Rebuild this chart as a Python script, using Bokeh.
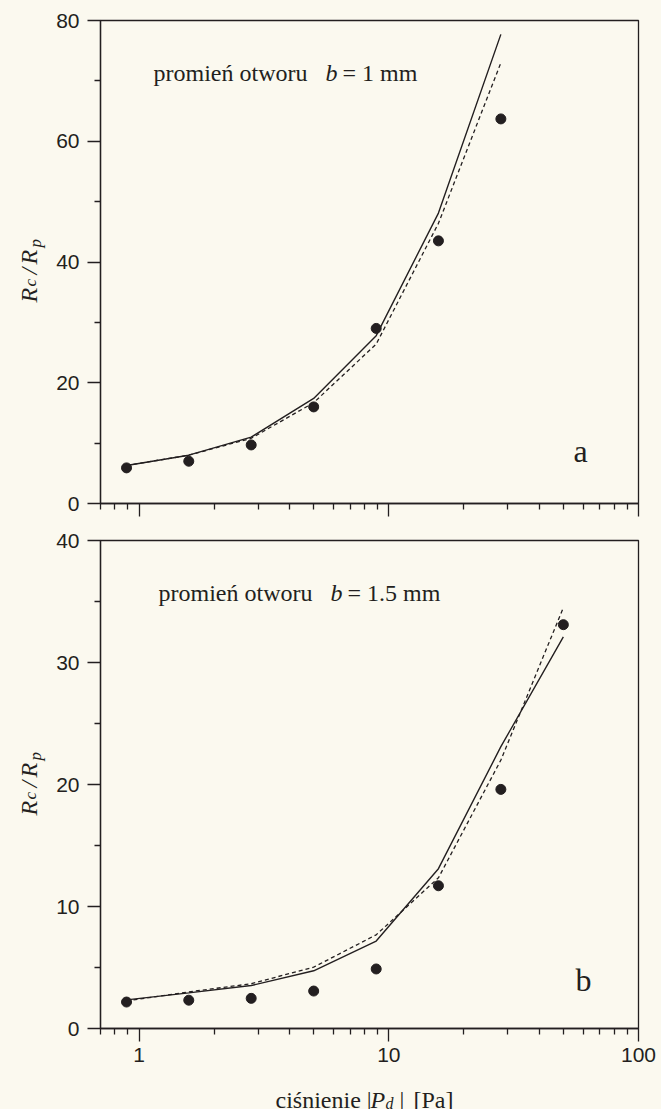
from math import pi

from bokeh.embed import file_html
from bokeh.layouts import column, row
from bokeh.models import (CustomJSTickFormatter, FixedTicker, Label,
                          NumeralTickFormatter, Range1d)
from bokeh.plotting import figure
from bokeh.resources import INLINE

# ---- data -------------------------------------------------------------
# panel a: hole radius b = 1 mm
pressure_a = [0.89, 1.58, 2.81, 5.0, 8.9, 15.8, 28.1]
measured_a = [5.9, 7.0, 9.7, 16.0, 29.0, 43.5, 63.7]
model_solid_a = [6.3, 8.0, 11.0, 17.4, 27.8, 48.1, 77.7]
model_dashed_a = [6.3, 8.0, 10.8, 16.7, 26.4, 46.4, 73.0]

# panel b: hole radius b = 1.5 mm
pressure_b = [0.89, 1.58, 2.81, 5.0, 8.9, 15.8, 28.1, 50.0]
measured_b = [2.17, 2.32, 2.47, 3.07, 4.88, 11.7, 19.6, 33.1]
model_solid_b = [2.35, 2.92, 3.52, 4.73, 7.17, 13.1, 23.1, 32.1]
model_dashed_b = [2.26, 3.0, 3.67, 5.03, 7.68, 12.35, 22.0, 34.5]

# axes
x_limits = (0.7, 100)
x_major = [1, 10, 100]
x_minor = [0.7, 0.8, 0.9, 2, 3, 4, 5, 6, 7, 8, 9,
           20, 30, 40, 50, 60, 70, 80, 90]
y_limits_a = (0, 80)
y_major_a = [0, 20, 40, 60, 80]
y_minor_a = [10, 30, 50, 70]
y_limits_b = (0, 40)
y_major_b = [0, 10, 20, 30, 40]
y_minor_b = [5, 15, 25, 35]

caption_a = "= 1 mm"
caption_b = "= 1.5 mm"

# ---- style / geometry -------------------------------------------------
INK = "#231f20"
PAPER = "#fbf9ef"
SERIF = "Liberation Serif"
SANS = "Liberation Sans"

STRIP_W = 50          # strip on the left holding the rotated axis title
FRAME_W = 538
RIGHT_PAD = 23
TOP_H, BOTTOM_H, XTITLE_H = 530, 550, 29


def text(p, s, x, y, dx, dy, size, style="normal", angle=0.0,
         align="left"):
    p.add_layout(Label(x=x, y=y, x_offset=dx, y_offset=dy, text=s,
                       text_font=SERIF, text_font_size=f"{size}px",
                       text_font_style=style, text_color=INK,
                       text_align=align, text_baseline="alphabetic",
                       angle=angle))


def blank(frame_w, frame_h, x_range, y_range, left=0, right=0,
          x_axis_type="linear"):
    # an axis-free canvas whose frame covers the area given
    p = figure(title=None, frame_width=frame_w, frame_height=frame_h,
               x_range=x_range, y_range=y_range, x_axis_type=x_axis_type,
               min_border_left=left, min_border_right=right,
               min_border_top=0, min_border_bottom=0,
               x_axis_location=None, y_axis_location=None,
               output_backend="svg", toolbar_location=None,
               background_fill_color=PAPER, border_fill_color=PAPER)
    p.grid.visible = False
    p.outline_line_color = None
    return p


def panel(x, measured, solid, dashed, y_limits, y_major, y_minor,
          height, frame_h, top, show_x_labels):
    p = figure(title=None, x_axis_type="log",
               x_range=Range1d(*x_limits), y_range=Range1d(*y_limits),
               frame_width=FRAME_W, frame_height=frame_h,
               min_border_left=100 - STRIP_W, min_border_right=RIGHT_PAD,
               min_border_top=top,
               min_border_bottom=height - top - frame_h,
               output_backend="svg", toolbar_location=None,
               background_fill_color=PAPER, border_fill_color=PAPER)
    p.grid.visible = False
    p.outline_line_color = INK
    p.outline_line_width = 1.3
    p.outline_line_alpha = 1.0

    for ax in (p.xaxis[0], p.yaxis[0]):
        ax.axis_label = None
        ax.axis_label_standoff = 0
        ax.axis_line_color = INK
        ax.axis_line_width = 1.3
        ax.major_tick_line_color = INK
        ax.major_tick_line_width = 1.3
        ax.minor_tick_line_color = INK
        ax.minor_tick_line_width = 1.3
        ax.major_tick_in = 0
        ax.minor_tick_in = 0
        ax.major_tick_out = 13
        ax.minor_tick_out = 6
        ax.major_label_text_font = SANS
        ax.major_label_text_font_size = "21px"
        ax.major_label_text_color = INK
        ax.major_label_standoff = 8

    p.xaxis.ticker = FixedTicker(ticks=x_major, minor_ticks=x_minor)
    if show_x_labels:
        p.xaxis.formatter = NumeralTickFormatter(format="0")
        p.xaxis.major_label_standoff = 6
    else:
        p.xaxis.formatter = CustomJSTickFormatter(code="return ''")
        p.xaxis.major_label_standoff = 0
        p.xaxis.major_label_text_font_size = "1px"
    p.yaxis.ticker = FixedTicker(ticks=y_major, minor_ticks=y_minor)

    p.line(x, solid, line_color=INK, line_width=1.4)
    p.line(x, dashed, line_color=INK, line_width=1.3, line_dash="4 3")
    p.scatter(x, measured, size=10, fill_color=INK, line_color=INK)
    return p


def caption(p, y_top, dx, tail, b_dx):
    x0 = x_limits[0]
    text(p, "promień otworu", x0, y_top, dx, -52, 24)
    text(p, "b", x0, y_top, b_dx, -52, 24, style="italic")
    text(p, tail, x0, y_top, b_dx + 17, -52, 24)


def y_title(strip, start):
    # R_c /R_p, written bottom to top; strip ranges are in pixels
    pieces = [("R", 0, 0, 24), ("c", 16, 2, 17), ("/", 28, 0, 24),
              ("R", 38, 0, 24), ("p", 55, 7, 17)]
    for s, along, drop, size in pieces:
        text(strip, s, 28 + drop, start + along, 0, 0, size,
             style="italic", angle=pi / 2)


# ---- main panels -------------------------------------------------------
top = panel(pressure_a, measured_a, model_solid_a, model_dashed_a,
            y_limits_a, y_major_a, y_minor_a, TOP_H, 483, 20, False)
bottom = panel(pressure_b, measured_b, model_solid_b, model_dashed_b,
               y_limits_b, y_major_b, y_minor_b, BOTTOM_H, 488, 10, True)

caption(top, y_limits_a[1], 53, caption_a, 225)
caption(bottom, y_limits_b[1], 58, caption_b, 230)

text(top, "a", x_limits[0], y_limits_a[1], 480, -430, 32, align="center")
text(bottom, "b", x_limits[0], y_limits_b[1], 483, -439, 32,
     align="center")

# ---- x title: ciśnienie |P_d| [Pa] --------------------------------------
xtitle = blank(FRAME_W, XTITLE_H, Range1d(*x_limits), Range1d(0, XTITLE_H),
               left=100 - STRIP_W, right=RIGHT_PAD, x_axis_type="log")
x0, yt = x_limits[0], XTITLE_H
text(xtitle, "ciśnienie |", x0, yt, 175, -19, 24)
text(xtitle, "P", x0, yt, 270, -19, 24, style="italic")
text(xtitle, "d", x0, yt, 285, -23, 16, style="italic")
text(xtitle, "|", x0, yt, 299, -19, 24)
text(xtitle, "[Pa]", x0, yt, 313, -19, 24)

# ---- y titles ------------------------------------------------------------
strip_top = blank(STRIP_W, TOP_H, Range1d(0, STRIP_W), Range1d(0, TOP_H))
strip_bottom = blank(STRIP_W, BOTTOM_H + XTITLE_H, Range1d(0, STRIP_W),
                     Range1d(0, BOTTOM_H + XTITLE_H))
y_title(strip_top, TOP_H - 302)
y_title(strip_bottom, BOTTOM_H + XTITLE_H - (815 - TOP_H))

layout = row(column(strip_top, strip_bottom, spacing=0),
             column(top, bottom, xtitle, spacing=0), spacing=0,
             styles={"background-color": PAPER})
open("out.html", "w").write(file_html(layout, INLINE))
